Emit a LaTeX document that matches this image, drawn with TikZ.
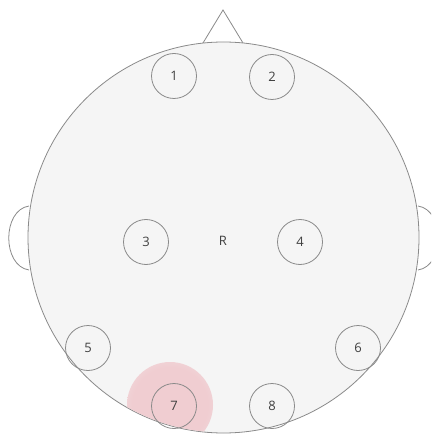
\documentclass[tikz,border=0pt]{standalone}
\usepackage{fontspec}
\setmainfont{Open Sans}
\definecolor{headgray}{HTML}{F5F5F5}
\definecolor{linegray}{HTML}{8A8A8A}
\definecolor{glowpink}{HTML}{F0CDD1}
\pgfdeclareradialshading{glow}{\pgfpoint{0bp}{0bp}}{color(0bp)=(glowpink); color(22bp)=(glowpink); color(50bp)=(headgray)}
\tikzset{
  electrode/.style={circle, draw=linegray, line width=0.8pt, minimum size=45pt, inner sep=0pt,
    font=\fontsize{13}{15}\selectfont, text=black!75},
  headline/.style={draw=linegray, line width=0.8pt}
}
\begin{document}
\begin{tikzpicture}[x=1pt,y=-1pt]
  \useasboundingbox (0,0) rectangle (431,435);
  \clip (0,0) rectangle (431,435);
  % nose and ears
  \draw[headline, fill=white] (203,43) -- (223,10) -- (243,43);
  \draw[headline, fill=white] (29,206) .. controls (2,210) and (2,266) .. (29,270);
  \draw[headline, fill=white] (418,206) .. controls (445,210) and (445,266) .. (418,270);
  % head
  \draw[headline, fill=headgray] (223.5,237.5) circle (195.5);
  \begin{scope}
    \clip (223.5,237.5) circle (195);
    \shade[shading=glow] (170,405) circle (43);
  \end{scope}
  % electrodes
  \node[electrode] (e1) at (174,76) {1};
  \node[electrode] (e2) at (272,77) {2};
  \node[electrode] (e3) at (146,242) {3};
  \node[font=\fontsize{13}{15}\selectfont, text=black!75] (ref) at (223,241) {R};
  \node[electrode] (e4) at (300,242) {4};
  \node[electrode] (e5) at (88,348) {5};
  \node[electrode] (e6) at (358,348) {6};
  \node[electrode] (e7) at (174,406) {7};
  \node[electrode] (e8) at (272,406) {8};
\end{tikzpicture}
\end{document}
